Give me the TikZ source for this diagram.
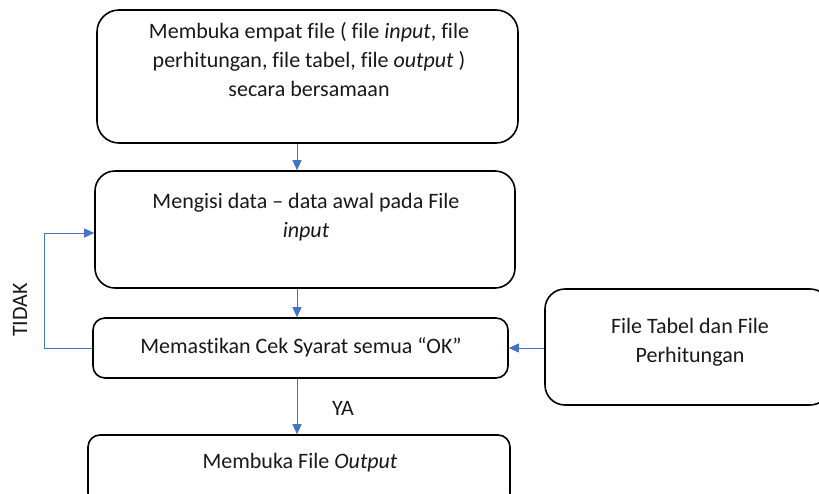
\documentclass[tikz,border=0pt]{standalone}
\usepackage{fontspec}
\setmainfont[RawFeature={-liga;-clig;-dlig;-calt}]{Carlito}
\usetikzlibrary{arrows.meta}
\definecolor{arrblue}{RGB}{68,114,196}
\begin{document}
\begin{tikzpicture}[x=1pt,y=-1pt,
  box/.style={draw=black,line width=1.6pt,fill=white,inner sep=0pt},
  txt/.style={align=center,font=\fontsize{22}{29}\selectfont,text=black!90,inner sep=0pt},
  arr/.style={draw=arrblue,line width=0.9pt,-{Triangle[length=10pt,width=9pt]}}]
\useasboundingbox (0,0) rectangle (819,493);
\clip (0,0) rectangle (819,493);
% boxes
\node[box,rounded corners=22pt,minimum width=421pt,minimum height=133pt] (b1) at (307.5,76.5) {};
\node[txt] (t1) at (309,60) {Membuka empat file ( file \textit{input}, file\\perhitungan, file tabel, file \textit{output} )\\secara bersamaan};
\node[box,rounded corners=20pt,minimum width=420pt,minimum height=117pt] (b2) at (305,229.5) {};
\node[txt] (t2) at (306,217.5) {Mengisi data -- data awal pada File\\\textit{input}};
\node[box,rounded corners=12pt,minimum width=415pt,minimum height=60pt] (b3) at (300.5,348) {};
\node[txt] (t3) at (301,347) {Memastikan Cek Syarat semua “OK”};
\node[box,rounded corners=12pt,minimum width=422pt,minimum height=70pt] (b4) at (299,470) {};
\node[txt] (t4) at (300,463) {Membuka File \textit{Output}};
\node[box,rounded corners=20pt,minimum width=285pt,minimum height=116pt] (b5) at (687.5,347) {};
\node[txt] (t5) at (690,342.5) {File Tabel dan File\\Perhitungan};
\node[txt,rotate=90] (tidak) at (20,310) {TIDAK};
\node[txt] (ya) at (343,408) {YA};
% connectors
\coordinate (ax) at (297,0);
\coordinate (fb) at (44,0);
\draw[arr] (b1.south -| ax) -- (b2.north -| ax);
\draw[arr] (b2.south -| ax) -- (b3.north -| ax);
\draw[arr] (b3.south -| ax) -- (b4.north -| ax);
\draw[arr] (b3.west) -- (fb |- b3.west) |- ([yshift=-3.5pt]b2.west);
\draw[arr] (b5.west |- b3.east) -- (b3.east);
\end{tikzpicture}
\end{document}
